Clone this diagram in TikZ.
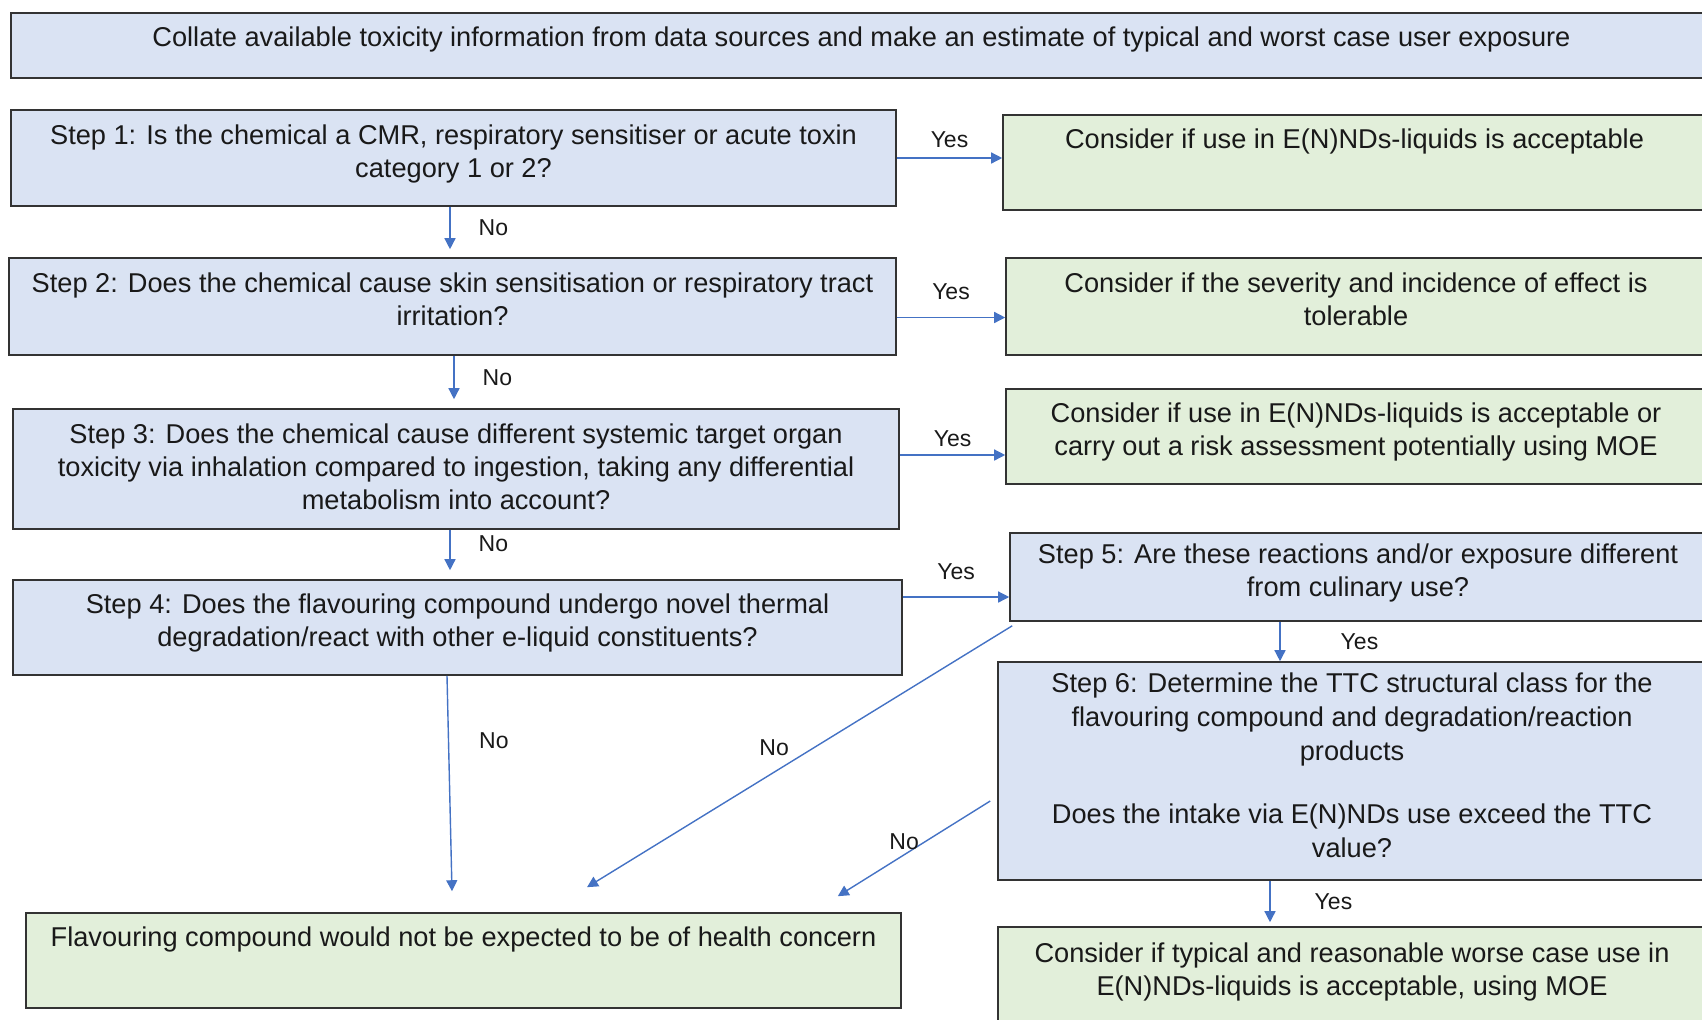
\documentclass[tikz,border=0pt]{standalone}
\usepackage{fontspec}
\setmainfont{Liberation Sans}
\usetikzlibrary{arrows.meta,positioning,calc}
\definecolor{stepblue}{HTML}{DAE3F3}
\definecolor{okgreen}{HTML}{E2EFDA}
\definecolor{flowblue}{HTML}{4472C4}

\begin{document}
\begin{tikzpicture}[x=0.5pt, y=-0.5pt,
  box/.style={rectangle, draw=black!80, line width=0.8pt, fill=#1, align=center, text=black!90,
    font=\fontsize{13.6}{16.5}\selectfont, inner sep=3pt, text depth=7pt},
  box/.default=stepblue,
  arr/.style={-{Triangle[length=5.5pt,width=5.5pt]}, flowblue, line width=0.7pt},
  lbl/.style={font=\fontsize{11.5}{13}\selectfont, text=black!90, inner sep=1pt}
]
  \clip (0,0) rectangle (1702,1019);
  \node[box, minimum width=850.5pt, minimum height=32.5pt, text depth=9pt] (src) at (861.5,45.5) {Collate available toxicity information from data sources and make an estimate of typical and worst case user exposure};
  \node[box, minimum width=442.5pt, minimum height=48pt] (s1) at (453.5,158) {Step 1: Is the chemical a CMR, respiratory sensitiser or acute toxin\\category 1 or 2?};
  \node[box=okgreen, minimum width=351.5pt, minimum height=47.5pt] (g1) at (1354.5,162.5) {Consider if use in E(N)NDs-liquids is acceptable\\~};
  \node[box, minimum width=443.5pt, minimum height=48.5pt] (s2) at (452.5,306.5) {Step 2: Does the chemical cause skin sensitisation or respiratory tract\\irritation?};
  \node[box=okgreen, minimum width=350pt, minimum height=48.5pt] (g2) at (1356,306.5) {Consider if the severity and incidence of effect is\\tolerable};
  \node[box, minimum width=443pt, minimum height=60pt, text depth=2pt] (s3) at (456,469) {Step 3: Does the chemical cause different systemic target organ\\toxicity via inhalation compared to ingestion, taking any differential\\metabolism into account?};
  \node[box=okgreen, minimum width=350pt, minimum height=47.5pt] (g3) at (1356,436.5) {Consider if use in E(N)NDs-liquids is acceptable or\\carry out a risk assessment potentially using MOE};
  \node[box, minimum width=444.5pt, minimum height=47.5pt] (s4) at (457.5,627.5) {Step 4: Does the flavouring compound undergo novel thermal\\degradation/react with other e-liquid constituents?};
  \node[box, minimum width=348pt, minimum height=44pt] (s5) at (1358,577) {Step 5: Are these reactions and/or exposure different\\from culinary use?};
  \node[box, minimum width=354pt, minimum height=109pt, font=\fontsize{13.6}{17.2}\selectfont, text depth=6pt] (s6) at (1352,771) {Step 6: Determine the TTC structural class for the\\flavouring compound and degradation/reaction\\products\\[14pt]Does the intake via E(N)NDs use exceed the TTC\\value?};
  \node[box=okgreen, minimum width=354pt, minimum height=49pt] (g6) at (1352,976) {Consider if typical and reasonable worse case use in\\E(N)NDs-liquids is acceptable, using MOE};
  \node[box=okgreen, minimum width=437.5pt, minimum height=47.5pt] (fin) at (463.5,960.5) {Flavouring compound would not be expected to be of health concern\\~};

  \draw[arr] (s1.east) -- (s1.east -| g1.west) node[lbl, midway, above=4pt] {Yes};
  \draw[arr] ($(s2.east)+(0,11)$) -- ($(g2.west)+(0,11)$) node[lbl, midway, above=7.5pt] {Yes};
  \draw[arr] ($(s3.east)+(0,-14)$) -- ($(g3.west)+(0,18.5)$) node[lbl, midway, above=3pt] {Yes};
  \draw[arr] ($(s4.east)+(0,-30.5)$) -- ($(s5.west)+(0,20)$) node[lbl, midway, above=7.5pt] {Yes};
  \draw[arr] ($(s5.south)+(-78,0)$) -- ($(s6.north)+(-72,0)$) node[lbl, midway, right=29pt] {Yes};
  \draw[arr] ($(s6.south)+(-82,0)$) -- ($(g6.north)+(-82,-4)$) node[lbl, midway, right=21pt] {Yes};

  \draw[arr] ($(s1.south)+(-3.5,0)$) -- ($(s2.north)+(-2.5,-8)$) node[lbl, midway, right=13pt] {No};
  \draw[arr] ($(s2.south)+(1.5,0)$) -- ($(s3.north)+(-2,-9)$) node[lbl, midway, right=13pt] {No};
  \draw[arr] ($(s3.south)+(-6,0)$) -- ($(s4.north)+(-7.5,-9)$) node[lbl, pos=0.35, right=13pt] {No};
  \draw[arr] ($(s4.south)+(-10.5,0)$) -- ($(fin.north)+(-11.5,-21)$) node[lbl, pos=0.3, right=14pt] {No};
  \draw[arr] ($(s5.south west)+(3,4)$) -- ($(fin.north)+(123.5,-25)$) node[lbl, pos=0.56, above=7pt] {No};
  \draw[arr] ($(s6.west)+(-7,30)$) -- ($(fin.north east)+(-64,-16)$) node[lbl, pos=0.565, above=1pt] {No};
\end{tikzpicture}
\end{document}
